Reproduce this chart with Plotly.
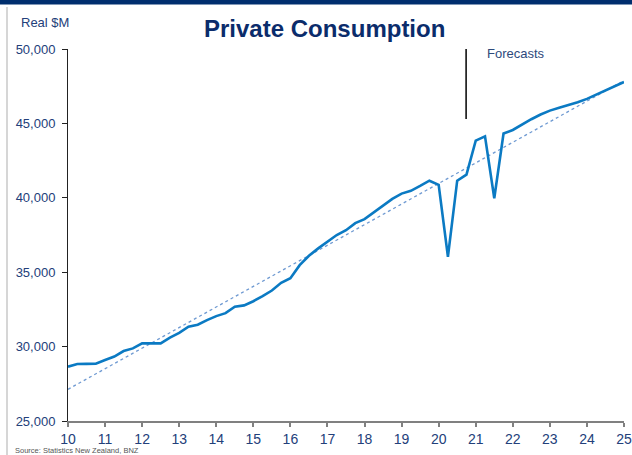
import plotly.graph_objects as go

# ---- data ----
start_year = 10          # 2010 Q1
consumption = [
    28650, 28830, 28840, 28850, 29100, 29330, 29700, 29880,
    30220, 30220, 30220, 30600, 30920, 31340, 31470, 31780,
    32050, 32250, 32680, 32770, 33050, 33400, 33770, 34290,
    34600, 35470, 36100, 36600, 37050, 37500, 37820, 38300,
    38570, 39040, 39520, 39930, 40280, 40470, 40800, 41150,
    40870, 36040, 41150, 41560, 43840, 44130, 39970, 44320,
    44560, 44930, 45280, 45600, 45860, 46050, 46230, 46420,
    46650, 46920, 47210, 47490, 47780,
]
periods = [start_year + i / 4 for i in range(len(consumption))]
trend_x = [10, 25]
trend_values = [27130, 47880]
x_ticks = list(range(10, 26))
y_ticks = [25000, 30000, 35000, 40000, 45000, 50000]
y_tick_labels = ["25,000", "30,000", "35,000", "40,000", "45,000", "50,000"]
forecast_start = 20.74

# ---- geometry helpers (pixel -> paper) ----
W, H = 632, 455
L, R, T, B = 68, 8, 49, 34
PW, PH = W - L - R, H - T - B
def px(X):
    return (X - L) / PW
def py(Y):
    return (H - B - Y) / PH

navy = "#0B2C6B"
label_col = "#23407A"

fig = go.Figure()
fig.add_trace(go.Scatter(
    x=trend_x, y=trend_values, mode="lines",
    line=dict(color="#6F9AD2", width=1.3, dash="dot"),
    hoverinfo="skip", showlegend=False,
))
fig.add_trace(go.Scatter(
    x=periods, y=consumption, mode="lines",
    line=dict(color="#0B7AC3", width=2.6),
    showlegend=False,
))

fig.update_layout(
    width=W, height=H,
    margin=dict(l=L, r=R, t=T, b=B, pad=0, autoexpand=False),
    paper_bgcolor="white", plot_bgcolor="white",
    font=dict(family="Liberation Sans, Arial, sans-serif", color=label_col),
    xaxis=dict(
        range=[10, 25], tickvals=x_ticks, ticktext=[str(v) for v in x_ticks],
        showgrid=False, zeroline=False, showline=True, automargin=False,
        linecolor="#808080", linewidth=2, ticks="outside", ticklen=4,
        tickcolor="#808080", tickwidth=1.5,
        tickfont=dict(size=14, color=label_col),
    ),
    yaxis=dict(
        range=[25000, 50000], tickvals=y_ticks, ticktext=y_tick_labels,
        showgrid=False, zeroline=False, showline=True, automargin=False,
        linecolor="#222222", linewidth=1, ticks="outside", ticklen=5,
        tickcolor="#222222", tickwidth=1,
        tickfont=dict(size=13, color=label_col),
        ticklabelstandoff=4,
    ),
    shapes=[
        # top navy band
        dict(type="rect", xref="paper", yref="paper",
             x0=px(-5), x1=px(W + 5), y0=py(4.5), y1=py(-2),
             fillcolor="#002E6E", line=dict(width=0), layer="above"),
        # light grey left border
        dict(type="line", xref="paper", yref="paper",
             x0=px(7), x1=px(7), y0=py(7), y1=py(H + 2),
             line=dict(color="#D6D6D6", width=2)),
        # forecasts marker line
        dict(type="line", xref="x", yref="y",
             x0=forecast_start, x1=forecast_start, y0=45300, y1=50000,
             line=dict(color="black", width=1.5)),
    ],
    annotations=[
        dict(text="<b>Private Consumption</b>", xref="paper", yref="paper",
             x=px(324), y=py(28), xanchor="center", yanchor="middle",
             showarrow=False, font=dict(size=24, color=navy)),
        dict(text="Real $M", xref="paper", yref="paper",
             x=px(19), y=py(22), xanchor="left", yanchor="middle",
             showarrow=False, font=dict(size=13, color=label_col)),
        dict(text="Forecasts", xref="paper", yref="paper",
             x=px(485), y=py(53), xanchor="left", yanchor="middle",
             showarrow=False, font=dict(size=13, color="#2E4A7C")),
        dict(text="Source: Statistics New Zealand, BNZ", xref="paper", yref="paper",
             x=px(13), y=py(443.5), xanchor="left", yanchor="top",
             showarrow=False, font=dict(size=7.5, color="#555555")),
    ],
)

fig.write_html("out.html")
